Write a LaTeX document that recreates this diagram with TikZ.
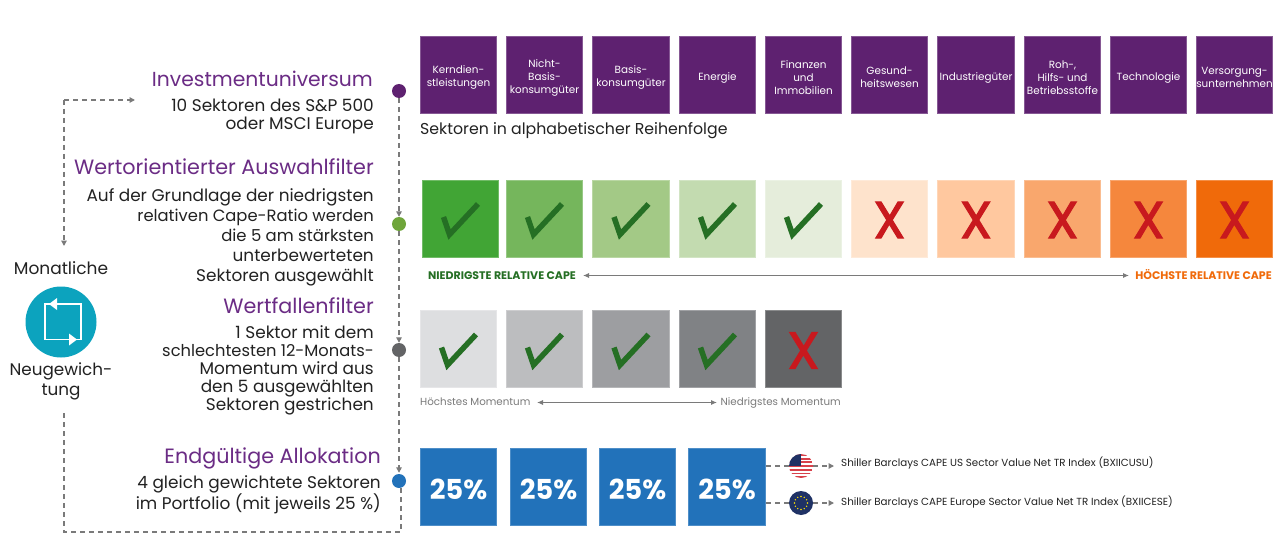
\documentclass[tikz,border=0pt]{standalone}
\usepackage{fontspec}
\setmainfont{Poppins}
\newfontfamily\xfont{Poppins}[FakeBold=2.2]
\usetikzlibrary{arrows.meta,calc}
\definecolor{purp}{HTML}{5E2170}
\definecolor{head}{HTML}{6B2C85}
\definecolor{txt}{HTML}{222222}
\definecolor{dgreen}{HTML}{256F24}
\definecolor{xred}{HTML}{C8191E}
\definecolor{lineg}{HTML}{7A7A7A}
\definecolor{blue}{HTML}{2272BA}
\definecolor{teal}{HTML}{0CA3BE}
\definecolor{navy}{HTML}{1F3265}
\definecolor{flagred}{HTML}{D8414A}
\definecolor{orangec}{HTML}{F06A0A}
\definecolor{dg}{HTML}{6FA53A}
\definecolor{dgr}{HTML}{636466}
\tikzset{
 sq/.style={minimum width=76.5pt,minimum height=77.2pt,inner sep=0pt,outer sep=0pt,line width=.8pt},
 sector/.style={sq,fill=purp,draw=purp!75!white},
 sectxt/.style={inner sep=0pt,text=white,align=center,font=\fontsize{10.4}{13}\selectfont},
 heading/.style={inner sep=0pt,anchor=base east,text=head,font=\fontsize{20.7}{25}\selectfont},
 body/.style={inner sep=0pt,anchor=east,align=right,text=txt},
 dashline/.style={draw=lineg,line width=1.3pt,dash pattern=on 5pt off 4pt},
 tipd/.style={-{Triangle[length=5.5pt,width=5.5pt]}},
 dotn/.style={circle,minimum size=14pt,inner sep=0pt},
 chk/.pic={\draw[dgreen,line width=5.5pt,miter limit=10] (-17,-1.5)--(-11,16)--(17.5,-14.5);},
 xmark/.style={inner sep=0pt,text=xred,font=\fontsize{52}{52}\selectfont\xfont},
 twoarrow/.style={draw=lineg,line width=1pt,{Latex[length=6pt,width=5pt]}-{Latex[length=6pt,width=5pt]}},
 pct/.style={sq,fill=blue,draw=blue!80!white},
 pcttxt/.style={inner sep=0pt,text=white,font=\fontsize{27.5}{29}\selectfont\bfseries},
 small/.style={inner sep=0pt,font=\fontsize{10.3}{12}\selectfont},
 capelabel/.style={inner sep=0pt,font=\fontsize{11}{12}\selectfont\bfseries},
}
\begin{document}
\begin{tikzpicture}[x=1pt,y=-1pt]
\useasboundingbox[fill=white] (0,0) rectangle (1280,559);
% Row 1
\foreach \n/\x/\t in {a/458.5/{Kerndien-\\stleistungen},b/544.5/{Nicht-\\Basis-\\konsumgüter},c/631/{Basis-\\konsumgüter},d/717.5/{Energie},e/803.5/{Finanzen\\und\\Immobilien},f/889.5/{Gesund-\\heitswesen},g/976/{Industriegüter},h/1062.5/{Roh-,\\Hilfs- und\\Betriebsstoffe},i/1148.5/{Technologie},j/1234.5/{Versorgung-\\sunternehmen}}{
  \node[sector] (s\n) at (\x,75) {};
  \node[sectxt] (t\n) at (\x,77.5) {\t};
}
\node[anchor=base west,inner sep=0pt,text=txt,font=\fontsize{15.75}{18}\selectfont] (alpha) at (420,135) {Sektoren in alphabetischer Reihenfolge};
% Row 2
\foreach \n/\x/\c in {a/460.5/41A535,b/544.5/75B65C,c/631/A3C986,d/717.5/C3DBB0,e/803.5/E5EDDB}{
  \definecolor{tmp}{HTML}{\c}
  \node[sq,fill=tmp,draw=tmp!75!white] (g\n) at (\x,218.5) {};
  \pic at (\x,218.5) {chk};
}
\foreach \n/\x/\c in {f/889.5/FEE3CC,g/976/FFC89F,h/1062.5/F9A76D,i/1148.5/F5873D,j/1234.5/F06A0A}{
  \definecolor{tmp}{HTML}{\c}
  \node[sq,fill=tmp,draw=tmp!75!white] (g\n) at (\x,218.5) {};
  \node[xmark] (x\n) at (\x,220) {X};
}
\node[capelabel,anchor=base west,text=dgreen] (lowc) at (428,279) {NIEDRIGSTE RELATIVE CAPE};
\node[capelabel,anchor=base east,text=orangec] (highc) at (1272,279) {HÖCHSTE RELATIVE CAPE};
\coordinate (ca) at (583,275.5);
\coordinate (cb) at (1129,275.5);
\draw[twoarrow] (ca) -- (cb);
% Row 3
\foreach \n/\x/\c in {a/458.5/DDDEE0,b/544.5/BCBDBF,c/631/9D9EA1,d/717.5/808285}{
  \definecolor{tmp}{HTML}{\c}
  \node[sq,fill=tmp,draw=tmp!75!white] (m\n) at (\x,349) {};
  \pic at (\x,349) {chk};
}
\definecolor{tmp}{HTML}{636466}
\node[sq,fill=tmp,draw=tmp!75!white] (me) at (803.5,349) {};
\node[xmark] (xe) at (803.5,350.5) {X};
\node[small,anchor=base west,text=lineg] (hm) at (420,405.5) {Höchstes Momentum};
\node[small,anchor=base east,text=lineg] (nm) at (841,405.5) {Niedrigstes Momentum};
\coordinate (ma) at (537,402.5);
\coordinate (mb) at (717,402.5);
\draw[twoarrow] (ma) -- (mb);
% Row 4
\foreach \n/\x in {a/458.5,b/548.5,c/637.5,d/727}{
  \node[pct] (p\n) at (\x,487) {};
  \node[pcttxt] (q\n) at (\x,489) {25\%};
}
% Flags
\node[circle,minimum size=24pt,inner sep=0pt,fill=white] (us) at (801,466) {};
\begin{scope}
 \clip (us.center) circle (12);
 \foreach \k in {0,2,4,6,8,10,12}
   \fill[flagred] (789,454+\k*1.85) rectangle (813,454+\k*1.85+1.85);
 \fill[navy] (789,454) rectangle (801,466);
\end{scope}
\node[circle,minimum size=24pt,inner sep=0pt,fill=navy] (eu) at (801,503) {};
\foreach \a in {0,30,...,330}
  \fill[yellow!85!orange] (eu.center) ++(\a:6.5) circle (.8);
\coordinate (ua) at (766,466);
\coordinate (ea) at (766,503);
\coordinate (ub) at (834,466);
\coordinate (eb) at (834,503);
\draw[dashline] (ua) -- (us.west);
\draw[dashline] (ea) -- (eu.west);
\draw[dashline,tipd] (us.east) -- (ub);
\draw[dashline,tipd] (eu.east) -- (eb);
\node[small,anchor=base west,text=txt] (ut) at (841,466) {Shiller Barclays CAPE US Sector Value Net TR Index (BXIICUSU)};
\node[small,anchor=base west,text=txt] (et) at (841,505) {Shiller Barclays CAPE Europe Sector Value Net TR Index (BXIICESE)};
% Left text
\node[heading,font=\fontsize{20.3}{25}\selectfont] (h1) at (373,87) {Investmentuniversum};
\node[body,font=\fontsize{16.9}{18}\selectfont] (b1) at (374,116.5) {10 Sektoren des S\&P 500\\oder MSCI Europe};
\node[heading] (h2) at (374,175) {Wertorientierter Auswahlfilter};
\node[body,font=\fontsize{16.9}{20}\selectfont] (b2) at (374,237) {Auf der Grundlage der niedrigsten\\{\fontsize{16.35}{20}\selectfont relativen Cape-Ratio werden}\\{\fontsize{16.45}{20}\selectfont die 5 am stärksten}\\unterbewerteten\\Sektoren ausgewählt};
\node[heading] (h3) at (374,313) {Wertfallenfilter};
\node[body,font=\fontsize{16.9}{18}\selectfont] (b3) at (374,370) {1 Sektor mit dem\\{\fontsize{16.3}{18}\selectfont schlechtesten 12-Monats-}\\Momentum wird aus\\den 5 ausgewählten\\Sektoren gestrichen};
\node[heading] (h4) at (381,463) {Endgültige Allokation};
\node[body,font=\fontsize{16.9}{20}\selectfont] (b4) at (381,495) {4 gleich gewichtete Sektoren\\im Portfolio (mit jeweils 25 \%)};
% Timeline dots
\node[dotn,fill=purp] (d1) at (399,91) {};
\node[dotn,fill=dg] (d2) at (399,224) {};
\node[dotn,fill=dgr] (d3) at (399,350) {};
\node[dotn,fill=blue] (d4) at (399,481) {};
\draw[dashline,tipd] (d1) -- (d2);
\draw[dashline,tipd] (d2) -- (d3);
\draw[dashline,tipd] (d3) -- ($(d4.north)+(0,-1)$);
% Rebalance
\node[inner sep=0pt,text=txt,font=\fontsize{17}{20}\selectfont] (mon) at (61,268) {Monatliche};
\node[circle,minimum size=71pt,inner sep=0pt,fill=teal] (reb) at (61,322) {};
\node[inner sep=0pt,align=center,text=txt,font=\fontsize{16.8}{20}\selectfont] (neu) at (61,381) {Neugewich-\\tung};
\draw[white,line width=1.6pt] (45,304) rectangle (81,339.5);
\fill[white] (45,304) ++(12,-6) -- ++(0,12) -- ++(-8,-6) -- cycle;
\fill[white] (69,333.5) -- ++(0,12) -- ++(8,-6) -- cycle;
\coordinate (la) at (64,100);
\coordinate (lb) at (135,100);
\coordinate (lc) at (64,246);
\coordinate (ld) at (64,410);
\coordinate (le) at (64,532);
\draw[dashline,tipd] (la) -- (lb);
\draw[dashline,tipd] (la) -- (lc);
\coordinate (ls) at ($(d4.south)+(2,0)$);
\draw[dashline] (ls) |- (le) -- (ld);
\end{tikzpicture}
\end{document}
